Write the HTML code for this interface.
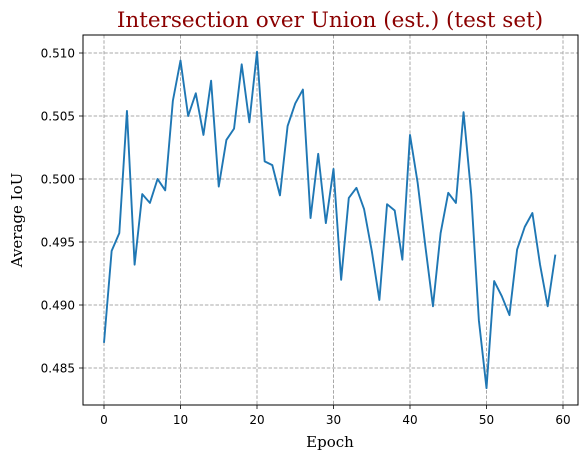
<!DOCTYPE html>
<html><head><meta charset="utf-8"><style>
html,body{margin:0;padding:0;background:#fff;}
svg{display:block;font-family:"DejaVu Sans","Liberation Sans",sans-serif;}
</style></head><body>
<svg id="chart" width="587" height="461" viewBox="0 0 587 461">
<text x="330" y="27" text-anchor="middle" font-family="'DejaVu Serif','Liberation Serif',serif" font-size="21.5" fill="#8b0000">Intersection over Union (est.) (test set)</text>
<g id="grid"></g>
<g id="ticks"></g>
<path id="line" fill="none" stroke="#1f77b4" stroke-width="1.9" stroke-linejoin="round"></path>
<rect x="83" y="35" width="495" height="370" fill="none" stroke="#000" stroke-width="1"></rect>
<text x="330" y="447" text-anchor="middle" font-family="'DejaVu Serif','Liberation Serif',serif" font-size="15">Epoch</text>
<text transform="translate(22,220) rotate(-90)" text-anchor="middle" font-family="'DejaVu Serif','Liberation Serif',serif" font-size="15">Average IoU</text>
</svg>
<script>
const epochs = [];
for (let i = 0; i < 60; i++) epochs.push(i);
const iouValues = [0.4870,0.4943,0.4957,0.5054,0.4932,0.4988,0.4981,0.5000,0.4991,0.5062,
0.5094,0.5050,0.5068,0.5035,0.5078,0.4994,0.5031,0.5040,0.5091,0.5045,
0.5101,0.5014,0.5011,0.4987,0.5042,0.5060,0.5071,0.4969,0.5020,0.4965,
0.5008,0.4920,0.4985,0.4993,0.4976,0.4943,0.4904,0.4980,0.4975,0.4936,
0.5035,0.4997,0.4947,0.4899,0.4957,0.4989,0.4981,0.5053,0.4988,0.4888,
0.4834,0.4919,0.4907,0.4892,0.4944,0.4962,0.4973,0.4932,0.4899,0.4940];
const xTicks = [0,10,20,30,40,50,60];
const yTicks = [0.485,0.490,0.495,0.500,0.505,0.510];
const yTickLabels = ["0.485","0.490","0.495","0.500","0.505","0.510"];

const NS = "http://www.w3.org/2000/svg";
function xScale(v){ return 104 + (v - 0) * (563 - 104) / 60; }
function yScale(v){ return 53 + (0.510 - v) * (368 - 53) / 0.025; }
const grid = document.getElementById('grid');
const ticks = document.getElementById('ticks');
function mk(tag, attrs, parent){ const e = document.createElementNS(NS, tag); for (const k in attrs) e.setAttribute(k, attrs[k]); parent.appendChild(e); return e; }
xTicks.forEach(t => {
  const x = xScale(t);
  const g = mk('line', {x1:x, x2:x, y1:35, y2:405, stroke:'#a8a8a8', 'stroke-width':1, 'stroke-dasharray':'3.5,1.8'}, grid);
  
  
  const tk = mk('line', {x1:x, x2:x, y1:405, y2:409, stroke:'#000', 'stroke-width':0.8}, ticks);
  
  
  const lb = mk('text', {x:x, y:424, 'text-anchor':'middle', 'font-size':12}, ticks);
  lb.textContent = String(t);
  
  
});
yTicks.forEach((t, i) => {
  const y = yScale(t);
  const g = mk('line', {x1:83, x2:578, y1:y, y2:y, stroke:'#a8a8a8', 'stroke-width':1, 'stroke-dasharray':'3.5,1.8'}, grid);
  
  
  const tk = mk('line', {x1:79, x2:83, y1:y, y2:y, stroke:'#000', 'stroke-width':0.8}, ticks);
  
  
  const lb = mk('text', {x:75, y:y+4.5, 'text-anchor':'end', 'font-size':12}, ticks);
  lb.textContent = yTickLabels[i];
  
  
});
document.getElementById('line').setAttribute('d',
  iouValues.map((v, i) => (i ? 'L' : 'M') + xScale(epochs[i]).toFixed(2) + ',' + yScale(v).toFixed(2)).join(''));
</script>
</body></html>
